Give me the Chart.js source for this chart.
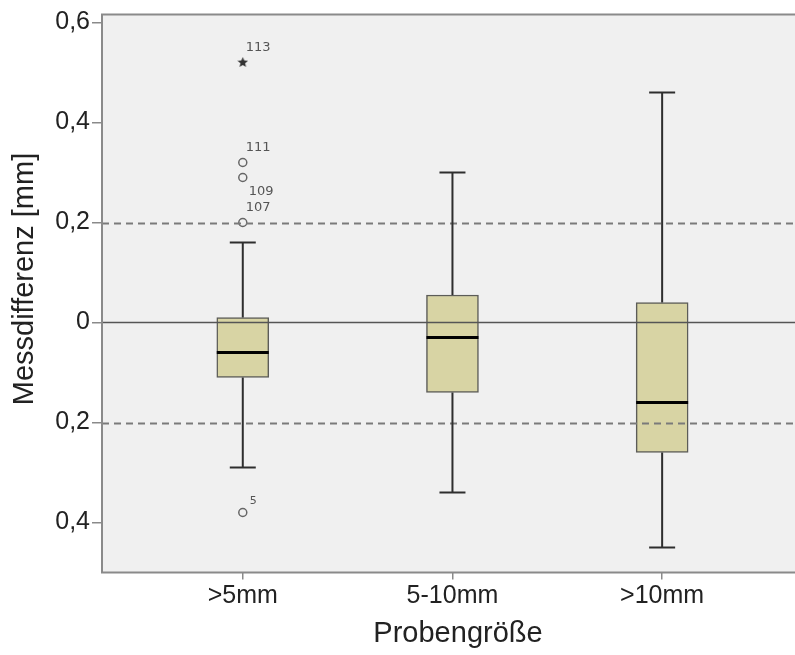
<!DOCTYPE html>
<html>
<head>
<meta charset="utf-8">
<script src="https://cdn.jsdelivr.net/npm/chart.js@4.4.0/dist/chart.umd.min.js"></script>
<style>
  html, body { margin: 0; padding: 0; background: #fff; }
  #wrap { width: 795px; height: 655px; }
</style>
</head>
<body>
<div id="wrap"><canvas id="chart" width="795" height="655"></canvas></div>
<script>
// Kategorien und Boxplot-Kennwerte
const groups = ['>5mm', '5-10mm', '>10mm'];
const whiskerLow = [-0.29, -0.34, -0.45];
const q1 = [-0.11, -0.14, -0.26];
const median = [-0.06, -0.03, -0.16];
const q3 = [0.01, 0.055, 0.04];
const whiskerHigh = [0.16, 0.30, 0.46];

// Ausreißer (Kreis) und Extremwerte (Stern) mit Fallnummer
const outlierGroup = [0, 0, 0, 0];
const outlierValue = [0.32, 0.29, 0.20, -0.38];
const outlierCase = ['111', '109', '107', '5'];
const extremeGroup = [0];
const extremeValue = [0.52];
const extremeCase = ['113'];

// Achsen und Referenzlinien
const yTicks = [-0.4, -0.2, 0, 0.2, 0.4, 0.6];
const refLines = [0.2, -0.2];
const zeroLine = 0;
const xTitle = 'Probengröße';
const yTitle = 'Messdifferenz [mm]';

const FONT = "'Liberation Sans', Arial, sans-serif";

// kleiner gefüllter Stern für Extremwerte
function makeStar(size, color) {
  const c = document.createElement('canvas');
  c.width = size; c.height = size;
  const g = c.getContext('2d');
  const cx = size / 2, cy = size / 2, ro = size / 2, ri = ro * 0.45;
  g.beginPath();
  for (let k = 0; k < 10; k++) {
    const r = k % 2 === 0 ? ro : ri;
    const a = -Math.PI / 2 + k * Math.PI / 5;
    g.lineTo(cx + r * Math.cos(a), cy + r * Math.sin(a));
  }
  g.closePath();
  g.fillStyle = color;
  g.fill();
  return c;
}
const starImg = makeStar(11, '#333');

// Hintergrund, Rahmen, Whisker, Median, Linien, Fallnummern, Achsentitel
const boxParts = {
  id: 'boxParts',
  beforeDatasetsDraw(chart) {
    const {ctx, chartArea: a} = chart;
    ctx.save();
    ctx.fillStyle = '#f0f0f0';
    ctx.fillRect(a.left, a.top, a.right - a.left + 10, a.bottom - a.top);
    ctx.restore();
  },
  afterDatasetsDraw(chart) {
    const {ctx, chartArea: a, scales: {x, y}} = chart;
    const right = chart.width;
    ctx.save();

    // Referenzlinien
    ctx.strokeStyle = '#7a7a7a';
    ctx.lineWidth = 2;
    ctx.setLineDash([7, 5]);
    refLines.forEach(v => {
      const py = Math.round(y.getPixelForValue(v)) + 0.5;
      ctx.beginPath(); ctx.moveTo(a.left, py); ctx.lineTo(right, py); ctx.stroke();
    });
    ctx.setLineDash([]);
    ctx.strokeStyle = '#555';
    ctx.lineWidth = 1.5;
    const pz = y.getPixelForValue(zeroLine);
    ctx.beginPath(); ctx.moveTo(a.left, pz); ctx.lineTo(right, pz); ctx.stroke();

    // Whisker
    const capHalf = 13;
    ctx.strokeStyle = '#2e2e2e';
    ctx.lineWidth = 2;
    groups.forEach((g, i) => {
      const px = x.getPixelForValue(i + 1);
      const yLo = y.getPixelForValue(whiskerLow[i]);
      const yQ1 = y.getPixelForValue(q1[i]);
      const yQ3 = y.getPixelForValue(q3[i]);
      const yHi = y.getPixelForValue(whiskerHigh[i]);
      ctx.beginPath();
      ctx.moveTo(px, yQ3); ctx.lineTo(px, yHi);
      ctx.moveTo(px - capHalf, yHi); ctx.lineTo(px + capHalf, yHi);
      ctx.moveTo(px, yQ1); ctx.lineTo(px, yLo);
      ctx.moveTo(px - capHalf, yLo); ctx.lineTo(px + capHalf, yLo);
      ctx.stroke();
    });

    // Median
    const meta = chart.getDatasetMeta(0);
    ctx.strokeStyle = '#000';
    ctx.lineWidth = 3;
    meta.data.forEach((bar, i) => {
      const half = bar.width / 2;
      const pm = y.getPixelForValue(median[i]);
      ctx.beginPath(); ctx.moveTo(bar.x - half, pm); ctx.lineTo(bar.x + half, pm); ctx.stroke();
    });

    // Rahmen (oben, links, unten)
    ctx.strokeStyle = '#8a8a8a';
    ctx.lineWidth = 2;
    ctx.beginPath();
    ctx.moveTo(right, a.top); ctx.lineTo(a.left, a.top);
    ctx.lineTo(a.left, a.bottom); ctx.lineTo(right, a.bottom);
    ctx.stroke();

    // Fallnummern neben den Ausreißern
    const marks = [];
    outlierValue.forEach((v, k) => marks.push({g: outlierGroup[k], v, t: outlierCase[k]}));
    extremeValue.forEach((v, k) => marks.push({g: extremeGroup[k], v, t: extremeCase[k]}));
    marks.sort((m1, m2) => m2.v - m1.v);
    ctx.fillStyle = '#555';
    ctx.textBaseline = 'middle';
    ctx.textAlign = 'left';
    let lastY = -100;
    marks.forEach(m => {
      const px = x.getPixelForValue(m.g + 1);
      const py = y.getPixelForValue(m.v);
      let ly = py - 15, lx = px + 3;
      if (ly - lastY < 16) { ly = py + 14; lx = px + 6; }
      ctx.font = (m.t.length === 1 ? '11px ' : '13px ') + "'DejaVu Sans', sans-serif";
      if (m.t.length === 1) { ly = py - 11; lx = px + 7; }
      ctx.fillText(m.t, lx, ly);
      lastY = ly;
    });

    // Achsentitel
    ctx.fillStyle = '#222';
    ctx.font = '29px ' + FONT;
    ctx.textAlign = 'center';
    ctx.textBaseline = 'middle';
    ctx.fillText(xTitle, 458, 634);
    ctx.translate(25, 279);
    ctx.rotate(-Math.PI / 2);
    ctx.fillText(yTitle, 0, 0);
    ctx.restore();
  }
};

new Chart(document.getElementById('chart').getContext('2d'), {
  data: {
    datasets: [
      {
        type: 'bar',
        data: groups.map((g, i) => ({x: i + 1, y: [q1[i], q3[i]]})),
        backgroundColor: '#d8d4a4',
        borderColor: '#5c5c58',
        borderWidth: 1.5,
        borderSkipped: false,
        barThickness: 52
      },
      {
        type: 'scatter',
        data: outlierValue.map((v, k) => ({x: outlierGroup[k] + 1, y: v})),
        pointStyle: 'circle',
        pointRadius: 4,
        borderColor: '#666',
        backgroundColor: 'rgba(0,0,0,0)',
        borderWidth: 1.5
      },
      {
        type: 'scatter',
        data: extremeValue.map((v, k) => ({x: extremeGroup[k] + 1, y: v})),
        pointStyle: starImg,
        pointRadius: 5
      }
    ]
  },
  options: {
    responsive: false,
    animation: false,
    events: [],
    layout: { padding: { top: 14.5, left: 0, right: 0, bottom: 0 } },
    plugins: { legend: { display: false }, tooltip: { enabled: false } },
    scales: {
      x: {
        type: 'linear',
        offset: false,
        min: 0.3286,
        max: 3.605,
        afterBuildTicks: s => { s.ticks = groups.map((g, i) => ({value: i + 1})); },
        afterFit: s => { s.height = 82.5; },
        border: { display: false },
        grid: { offset: false, drawOnChartArea: false, tickLength: 7, color: '#8a8a8a', lineWidth: 1.5 },
        ticks: {
          callback: v => groups[v - 1],
          color: '#222',
          font: { family: FONT, size: 25 },
          padding: 2,
          maxRotation: 0
        }
      },
      y: {
        min: -0.5,
        max: 0.616,
        afterBuildTicks: s => { s.ticks = yTicks.map(v => ({value: v})); },
        afterFit: s => { s.width = 102; },
        border: { display: false },
        grid: { drawOnChartArea: false, tickLength: 10, color: '#8a8a8a', lineWidth: 1.5 },
        ticks: {
          callback: v => v === 0 ? '0' : Math.abs(v).toFixed(1).replace('.', ','),
          color: '#222',
          font: { family: FONT, size: 25, lineHeight: 1 },
          padding: 2
        }
      }
    }
  },
  plugins: [boxParts]
});
</script>
</body>
</html>
